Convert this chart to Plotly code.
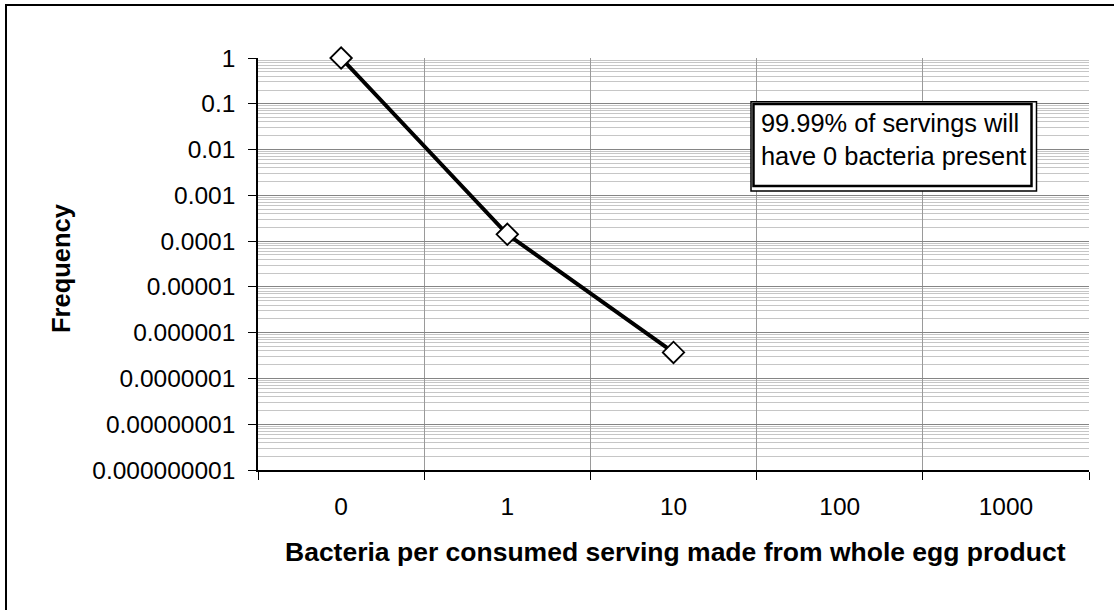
import plotly.graph_objects as go

# Bacteria counts per serving (category labels on the x axis)
bacteria_counts = ["0", "1", "10", "100", "1000"]
# Frequency of each count; higher counts have no observed servings
frequency = [0.9999, 1.41e-4, 3.7e-7, None, None]

# Log-scale tick positions and their printed labels
y_tick_values = [1e0, 1e-1, 1e-2, 1e-3, 1e-4, 1e-5, 1e-6, 1e-7, 1e-8, 1e-9]
y_tick_labels = ["1", "0.1", "0.01", "0.001", "0.0001", "0.00001",
                 "0.000001", "0.0000001", "0.00000001", "0.000000001"]

note_text = "99.99% of servings will<br>have 0 bacteria present"
x_title = "Bacteria per consumed serving made from whole egg product"
y_title = "Frequency"

W, H = 1114, 610
L, R, T, B = 258, 1089, 58, 470  # plot-area edges in pixels


def px_x(p):
    return (p - L) / (R - L)


def px_y(p):
    return (B - p) / (B - T)


FONT = "Liberation Sans, Arial, sans-serif"
TICK_SIZE = 24.5

# minor gridlines at 2..9 within each decade
minor_vals = [m * 10.0 ** e for e in range(-9, 0) for m in range(2, 10)]

fig = go.Figure()
fig.add_trace(go.Scatter(
    x=bacteria_counts,
    y=frequency,
    mode="lines+markers",
    line=dict(color="black", width=4),
    marker=dict(symbol="diamond", size=16.5, color="white",
                line=dict(color="black", width=1.8)),
    cliponaxis=False,
    showlegend=False,
))

fig.update_layout(
    width=W, height=H,
    margin=dict(l=L, r=W - R, t=T, b=H - B),
    paper_bgcolor="white",
    plot_bgcolor="white",
    font=dict(family=FONT, size=TICK_SIZE, color="black"),
    xaxis=dict(
        type="category",
        categoryorder="array",
        categoryarray=bacteria_counts,
        range=[-0.5, 4.5],
        tickson="boundaries",
        ticks="outside", ticklen=8, tickcolor="black", tickwidth=1,
        showgrid=True, gridcolor="#9a9a9a", gridwidth=1,
        showline=True, linecolor="black", linewidth=1.5,
        tickfont=dict(family=FONT, size=TICK_SIZE, color="black"),
        ticklabelstandoff=14,
        zeroline=False,
    ),
    yaxis=dict(
        type="log",
        range=[-9, 0],
        tickvals=y_tick_values,
        ticktext=y_tick_labels,
        ticks="outside", ticklen=8, tickcolor="black", tickwidth=1,
        showgrid=True, gridcolor="#858585", gridwidth=1,
        minor=dict(tickvals=minor_vals, showgrid=True,
                   gridcolor="#c6c6c6", gridwidth=1, ticks=""),
        showline=True, linecolor="black", linewidth=1.5,
        tickfont=dict(family=FONT, size=TICK_SIZE, color="black"),
        ticklabelstandoff=8,
        zeroline=False,
    ),
)

# axis titles
fig.add_annotation(
    text=f"<b>{x_title}</b>", xref="paper", yref="paper",
    x=px_x(675), y=px_y(552), showarrow=False,
    xanchor="center", yanchor="middle",
    font=dict(family=FONT, size=26.5, color="black"),
)
fig.add_annotation(
    text=f"<b>{y_title}</b>", xref="paper", yref="paper",
    x=px_x(61), y=px_y(268), showarrow=False, textangle=-90,
    xanchor="center", yanchor="middle",
    font=dict(family=FONT, size=25.5, color="black"),
)

# outer chart frame (top and left edges visible)
fig.add_shape(type="rect", xref="paper", yref="paper",
              x0=px_x(6), x1=px_x(W + 20), y0=px_y(5), y1=px_y(H + 20),
              line=dict(color="black", width=2), fillcolor="rgba(0,0,0,0)",
              layer="above")

# callout box with offset double border
fig.add_shape(type="rect", xref="paper", yref="paper",
              x0=px_x(751), x1=px_x(1036.5), y0=px_y(101.8), y1=px_y(191),
              line=dict(color="black", width=1.5), fillcolor="white",
              layer="above")
fig.add_shape(type="rect", xref="paper", yref="paper",
              x0=px_x(753.5), x1=px_x(1031.5), y0=px_y(104), y1=px_y(186),
              line=dict(color="black", width=2.5), fillcolor="white",
              layer="above")
fig.add_annotation(
    text=note_text, xref="paper", yref="paper",
    x=px_x(759), y=px_y(139), showarrow=False,
    xanchor="left", yanchor="middle", align="left",
    font=dict(family=FONT, size=25.4, color="black"),
)

fig.write_html("out.html")
